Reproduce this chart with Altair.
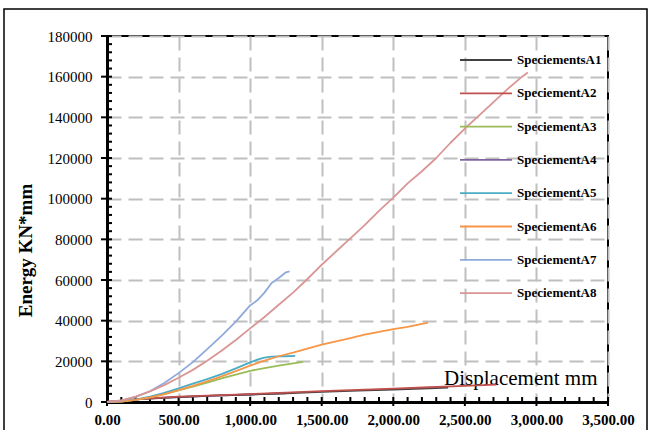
import altair as alt
import pandas as pd

# Series names and colours
series_names = [
    "SpeciementsA1", "SpeciementA2", "SpeciementA3", "SpeciementA4",
    "SpeciementA5", "SpeciementA6", "SpeciementA7", "SpeciementA8",
]
series_colors = [
    "#404040", "#c0504d", "#9bbb59", "#8064a2",
    "#4bacc6", "#f79646", "#8eaadb", "#d99694",
]

# Displacement (mm) / energy (KN*mm) for each specimen
a1_disp = [0, 100, 250, 500, 750, 1000, 1250, 1500, 1750, 2000, 2250, 2383]
a1_energy = [0, 600, 1500, 2400, 3100, 3700, 4300, 4950, 5550, 6150, 6750, 7050]

a2_disp = [0, 100, 250, 500, 750, 1000, 1250, 1500, 1750, 2000, 2250, 2500, 2720]
a2_energy = [0, 700, 1600, 2600, 3300, 3900, 4600, 5300, 5950, 6600, 7250, 7900, 8500]

a3_disp = [0, 100, 200, 300, 400, 500, 600, 700, 800, 900, 1000, 1100, 1200, 1300, 1370]
a3_energy = [0, 250, 1000, 2300, 3900, 5700, 7600, 9500, 11600, 13500, 15300, 16700,
             17900, 19000, 19700]

a4_disp = [0, 250, 500, 750, 1000, 1250]
a4_energy = [0, 1500, 2400, 3100, 3700, 4300]

a5_disp = [0, 100, 200, 300, 400, 500, 600, 700, 800, 900, 1000, 1050, 1100, 1150,
           1200, 1250, 1315]
a5_energy = [0, 300, 1200, 2600, 4500, 6700, 9000, 11300, 13700, 16500, 19500, 20800,
             21800, 22300, 22400, 22500, 22700]

a6_disp = [0, 100, 200, 300, 400, 500, 600, 700, 800, 900, 1000, 1100, 1200, 1300,
           1400, 1500, 1600, 1700, 1800, 1900, 2000, 2100, 2243]
a6_energy = [0, 250, 1000, 2300, 3900, 5800, 7900, 10200, 12600, 15200, 17900, 20300,
             22500, 24300, 26300, 28200, 29800, 31400, 33100, 34500, 35800, 37000, 39000]

a7_disp = [0, 100, 200, 300, 400, 500, 600, 700, 800, 900, 1000, 1050, 1100, 1150,
           1200, 1250, 1276]
a7_energy = [0, 700, 2500, 5300, 9300, 14200, 19600, 26000, 32500, 39500, 47500, 50000,
             53800, 58500, 61000, 63800, 64200]

a8_disp = [0, 100, 200, 300, 400, 500, 600, 700, 800, 900, 1000, 1100, 1200, 1300,
           1400, 1500, 1600, 1700, 1800, 1900, 2000, 2100, 2200, 2300, 2400, 2500,
           2600, 2700, 2800, 2900, 2940]
a8_energy = [0, 800, 2600, 5200, 8300, 11900, 15800, 20300, 25200, 30500, 36200, 41800,
             47800, 53800, 60500, 67500, 74000, 80500, 87000, 94000, 100500, 107500,
             113500, 120000, 127500, 134500, 141000, 147500, 154000, 160000, 162000]

series_data = [
    (a1_disp, a1_energy), (a2_disp, a2_energy), (a3_disp, a3_energy),
    (a4_disp, a4_energy), (a5_disp, a5_energy), (a6_disp, a6_energy),
    (a7_disp, a7_energy), (a8_disp, a8_energy),
]

# Axis ticks
x_major = [0, 500, 1000, 1500, 2000, 2500, 3000, 3500]
x_minor = [v for v in range(0, 3501, 100) if v % 500 != 0]
y_major = list(range(0, 180001, 20000))
y_minor = [v for v in range(0, 180001, 4000) if v % 20000 != 0]

W, H = 501, 366
SERIF = "Liberation Serif"

x_scale = alt.Scale(domain=[0, 3500], nice=False, zero=False)
y_scale = alt.Scale(domain=[0, 180000], nice=False, zero=False)

x_axis = alt.Axis(
    values=x_major, format=",.2f",
    labelFont=SERIF, labelFontSize=15, labelFontWeight="bold", labelColor="black",
    labelPadding=10, labelFlush=False, labelOverlap=False,
    ticks=False, tickSize=0,
    domainColor="black", domainWidth=3,
    grid=True, gridColor="#bfbfbf", gridDash=[14, 7], gridWidth=2,
    title="Displacement mm", titleFont=SERIF, titleFontSize=21,
    titleFontWeight="normal", titleColor="black",
    titleX=490, titleY=-18, titleAlign="right", titleBaseline="alphabetic",
)
y_axis = alt.Axis(
    values=y_major, format="d",
    labelFont=SERIF, labelFontSize=15, labelColor="black",
    labelPadding=15, labelFlush=False, labelOverlap=False,
    ticks=False, tickSize=0,
    domainColor="black", domainWidth=3,
    grid=True, gridColor="#bfbfbf", gridDash=[14, 7], gridWidth=2,
    title="Energy KN*mm", titleFont=SERIF, titleFontSize=19,
    titleFontWeight="bold", titleColor="black",
    titleAngle=270, titleX=-82, titleY=214,
    titleAlign="center", titleBaseline="middle",
)


def X(field="d"):
    return alt.X(f"{field}:Q", scale=x_scale, axis=x_axis)


def Y(field="e"):
    return alt.Y(f"{field}:Q", scale=y_scale, axis=y_axis)


layers = []

# Outer chart frame (bottom edge runs past the page)
layers.append(
    alt.Chart(alt.Data(values=[{}])).mark_rect(
        filled=False, stroke="black", strokeWidth=1.5
    ).encode(
        x=alt.value(-103), x2=alt.value(540), y=alt.value(-27), y2=alt.value(430)
    )
)

# Tick marks: major ticks cross the axis, minor ticks point inward
layers.append(
    alt.Chart(pd.DataFrame({"e": y_major})).mark_rule(color="black", strokeWidth=2)
    .encode(y=Y(), x=alt.value(-6), x2=alt.value(5))
)
layers.append(
    alt.Chart(pd.DataFrame({"e": y_minor})).mark_rule(color="black", strokeWidth=2)
    .encode(y=Y(), x=alt.value(0), x2=alt.value(5))
)
layers.append(
    alt.Chart(pd.DataFrame({"d": x_major})).mark_rule(color="black", strokeWidth=2)
    .encode(x=X(), y=alt.value(H - 5), y2=alt.value(H + 4))
)
layers.append(
    alt.Chart(pd.DataFrame({"d": x_minor})).mark_rule(color="black", strokeWidth=2)
    .encode(x=X(), y=alt.value(H - 5), y2=alt.value(H))
)

# Energy curves (A4 sits underneath the A1/A2 bundle)
draw_order = [3, 0, 1, 2, 4, 5, 6, 7]
for idx in draw_order:
    disp, energy = series_data[idx]
    df = pd.DataFrame({"d": disp, "e": energy})
    layers.append(
        alt.Chart(df).mark_line(
            color=series_colors[idx], strokeWidth=1.8, strokeJoin="round"
        ).encode(x=X(), y=Y())
    )

# Legend
for i, (name, color) in enumerate(zip(series_names, series_colors)):
    row_y = 24 + 33.3 * i
    layers.append(
        alt.Chart(alt.Data(values=[{}])).mark_rule(color=color, strokeWidth=1.8)
        .encode(x=alt.value(353), x2=alt.value(405), y=alt.value(row_y))
    )
    layers.append(
        alt.Chart(alt.Data(values=[{}])).mark_text(
            text=name, align="left", baseline="middle",
            font=SERIF, fontSize=13, fontWeight="bold", color="black",
        ).encode(x=alt.value(410), y=alt.value(row_y))
    )

chart = alt.layer(*layers).properties(
    width=W, height=H,
    autosize=alt.AutoSizeParams(type="none"),
    padding={"left": 107, "top": 36, "right": 41, "bottom": 28},
    background="white",
).configure_view(stroke="black", strokeWidth=2)

chart.save("out.html", embed_options={"renderer": "svg", "actions": False})
